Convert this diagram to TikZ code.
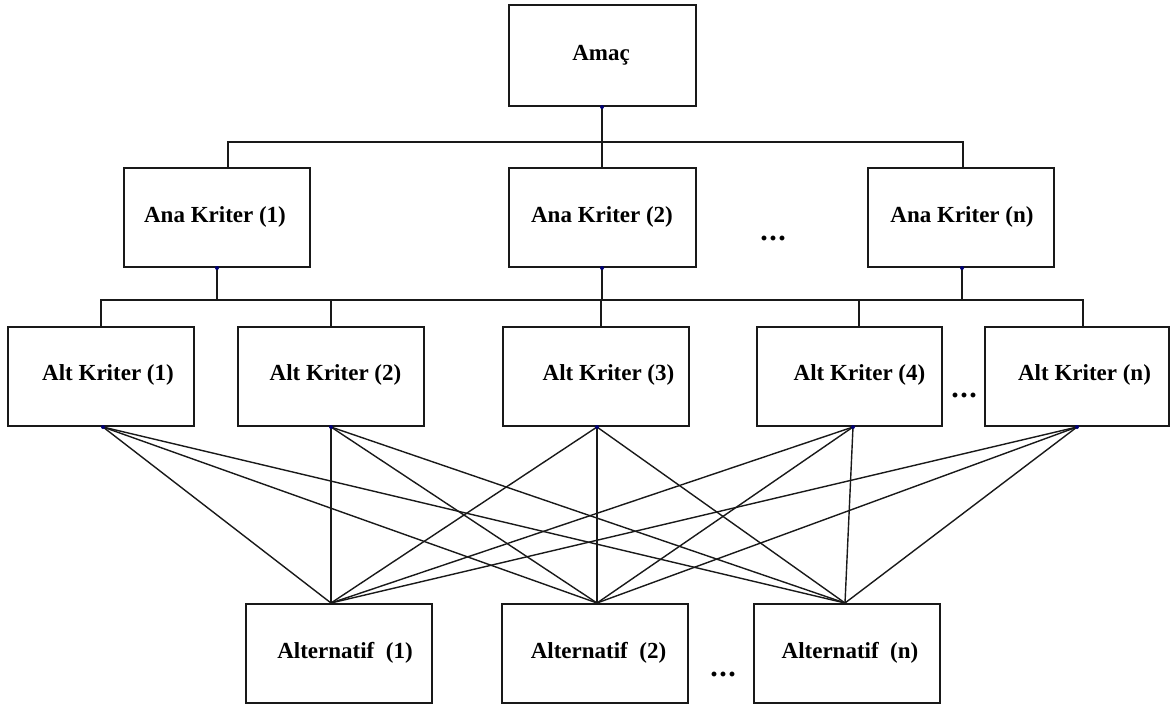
\documentclass[tikz,border=0pt]{standalone}
\usepackage{fontspec}
\setmainfont{Liberation Serif}
\usetikzlibrary{shadows}
\begin{document}
\begin{tikzpicture}[x=1pt,y=-1pt,
  box/.style={draw=black!90, line width=2pt, fill=white, rectangle,
    minimum width=186pt, minimum height=99pt, inner sep=0pt,
    drop shadow={shadow xshift=0.8pt, shadow yshift=-1pt, opacity=0.4, fill=black!60}},
  lbl/.style={font=\fontsize{23}{27}\selectfont\bfseries, inner sep=0pt},
  conn/.style={draw=black!90, line width=1.6pt},
  mesh/.style={draw=black!90, line width=1.4pt},
  pin/.style={fill=blue!45!black, circle, inner sep=0pt, minimum size=4pt},
  gap/.style={font=\fontsize{30}{32}\selectfont\bfseries, inner sep=0pt, anchor=base}]
\useasboundingbox (0,0) rectangle (1170,705);

% bus levels of the two trees
\coordinate (busA) at (0,142);
\coordinate (busB) at (0,300);

% goal
\node[box, minimum width=187pt, minimum height=101pt] (amac) at (602,55.5) {};
\node[lbl] (amact) at (601,55) {Amaç};

% main criteria
\node[box] (ana1) at (217,217.5) {};
\node[box, minimum width=187pt] (ana2) at (602,217.5) {};
\node[box] (anan) at (961,217.5) {};
\node[lbl] (ana1t) at (215,217) {Ana Kriter (1)};
\node[lbl] (ana2t) at (602,217) {Ana Kriter (2)};
\node[lbl] (anant) at (962,217) {Ana Kriter (n)};
\node[gap] (anadots) at (773,240) {.\kern1.5pt.\kern1.5pt.};

% sub criteria
\node[box] (alt1) at (101,376.5) {};
\node[box] (alt2) at (331,376.5) {};
\node[box] (alt3) at (596,376.5) {};
\node[box, minimum width=185pt] (alt4) at (849.5,376.5) {};
\node[box, minimum width=184pt] (altn) at (1077,376.5) {};
\node[lbl] (alt1t) at (108,375) {Alt Kriter (1)};
\node[lbl] (alt2t) at (335.5,375) {Alt Kriter (2)};
\node[lbl] (alt3t) at (608.5,375) {Alt Kriter (3)};
\node[lbl] (alt4t) at (859.5,375) {Alt Kriter (4)};
\node[lbl] (altnt) at (1084.5,375) {Alt Kriter (n)};
\node[gap] (altdots) at (964,397) {.\kern1.5pt.\kern1.5pt.};

% alternatives
\node[box] (alta) at (339,653.5) {};
\node[box] (altb) at (595,653.5) {};
\node[box] (altc) at (847,653.5) {};
\node[lbl] (altat) at (345,653) {Alternatif~~(1)};
\node[lbl] (altbt) at (598.5,653) {Alternatif~~(2)};
\node[lbl] (altct) at (850,653) {Alternatif~~(n)};
\node[gap] (alternatifdots) at (723,676) {.\kern1.5pt.\kern1.5pt.};

% first tree: goal to main criteria
\draw[conn] (amac.south) -- (amac.south |- busA);
\draw[conn] ([xshift=11pt]ana1.north) |- ([xshift=2pt]anan.north |- busA) -- ([xshift=2pt]anan.north);
\draw[conn] (ana2.north) -- (ana2.north |- busA);

% second tree: main criteria to sub criteria
\draw[conn] (ana1.south) -- (ana1.south |- busB);
\draw[conn] (ana2.south) -- (ana2.south |- busB);
\draw[conn] ([xshift=1pt]anan.south) -- ([xshift=1pt]anan.south |- busB);
\draw[conn] (alt1.north) |- ([xshift=6pt]altn.north |- busB) -- ([xshift=6pt]altn.north);
\draw[conn] (alt2.north) -- (alt2.north |- busB);
\draw[conn] ([xshift=5pt]alt3.north) -- ([xshift=5pt]alt3.north |- busB);
\draw[conn] ([xshift=9.5pt]alt4.north) -- ([xshift=9.5pt]alt4.north |- busB);

% attachment points of the full mesh
\coordinate (s1) at ([xshift=2pt]alt1.south);
\coordinate (s2) at (alt2.south);
\coordinate (s3) at ([xshift=1pt]alt3.south);
\coordinate (s4) at ([xshift=3.5pt]alt4.south);
\coordinate (s5) at (altn.south);
\coordinate (t1) at ([xshift=-8pt]alta.north);
\coordinate (t2) at ([xshift=2pt]altb.north);
\coordinate (t3) at ([xshift=-2pt]altc.north);

% every sub criterion to every alternative
\foreach \s in {s1,s2,s3,s4,s5}
  \foreach \t in {t1,t2,t3}
    \draw[mesh] (\s) -- (\t);

% small connection markers
\node[pin] (p0) at (amac.south) {};
\node[pin] (p1) at (ana1.south) {};
\node[pin] (p2) at (ana2.south) {};
\node[pin] (p3) at ([xshift=1pt]anan.south) {};
\node[pin] (q1) at (s1) {};
\node[pin] (q2) at (s2) {};
\node[pin] (q3) at (s3) {};
\node[pin] (q4) at (s4) {};
\node[pin] (q5) at (s5) {};
\end{tikzpicture}
\end{document}
